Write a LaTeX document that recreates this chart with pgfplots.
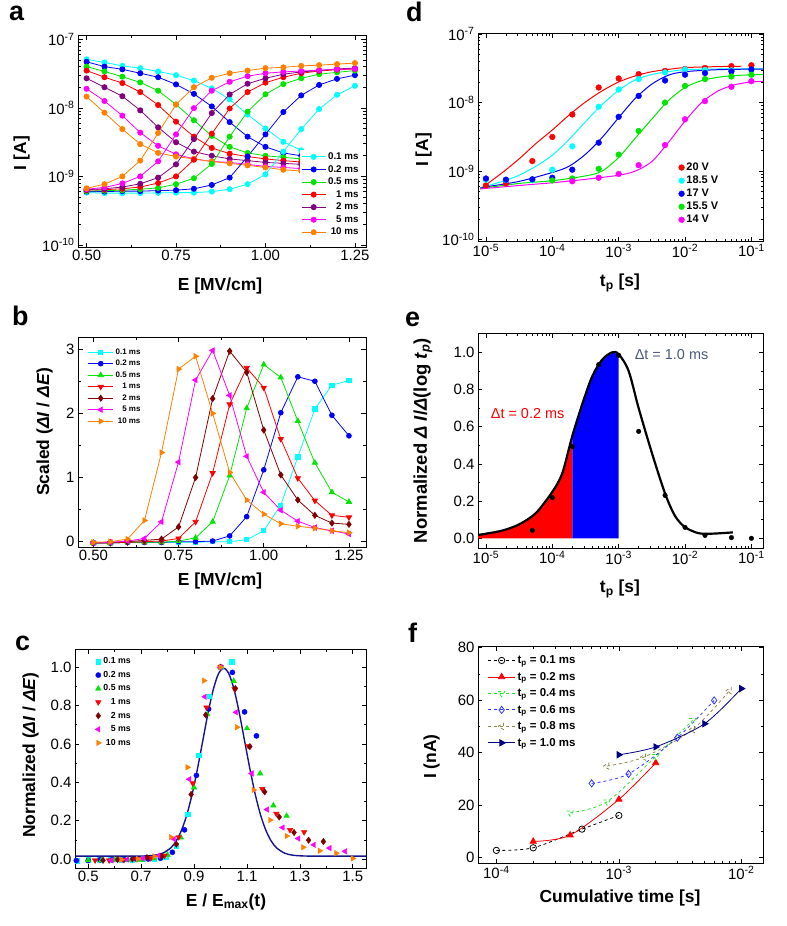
\documentclass[border=0pt]{standalone}
\usepackage{fontspec}
\setmainfont{Liberation Sans}
\usepackage{pgfplots}
\usepackage{pgfplotstable}
\pgfplotsset{compat=1.18}

\definecolor{cCy}{RGB}{0,255,255}
\definecolor{cBl}{RGB}{0,0,255}
\definecolor{cGr}{RGB}{0,230,0}
\definecolor{cRd}{RGB}{255,0,0}
\definecolor{cPu}{RGB}{128,0,128}
\definecolor{cMg}{RGB}{255,0,255}
\definecolor{cOr}{RGB}{255,128,0}
\definecolor{cDr}{RGB}{128,0,0}
\definecolor{cNv}{RGB}{0,0,128}
\definecolor{cOl}{RGB}{140,135,70}
\definecolor{cSl}{RGB}{75,90,120}
\definecolor{cFit}{RGB}{20,20,140}
\definecolor{cBf}{RGB}{50,50,255}
\definecolor{cGf}{RGB}{40,230,40}

\newcommand{\tenp}[1]{10\textsuperscript{#1}}

% panel a: I vs E, decreasing (D) and increasing (U) branches
\pgfplotstableread{
E     cyD     cyU      blD     blU      grD     grU      rdD     rdU      puD     puU      mgD     mgU      orD     orU
0.50  5.1e-8  5.8e-10  4.7e-8  6.0e-10  4.0e-8  6.1e-10  3.5e-8  6.3e-10  2.7e-8  6.4e-10  1.9e-8  6.5e-10  1.46e-8 6.7e-10
0.55  4.6e-8  5.7e-10  4.0e-8  6.0e-10  3.4e-8  6.2e-10  2.8e-8  6.4e-10  2.0e-8  6.6e-10  1.26e-8 6.9e-10  8.5e-9  7.7e-10
0.60  4.1e-8  5.7e-10  3.65e-8 6.1e-10  2.85e-8 6.3e-10  2.3e-8  6.6e-10  1.48e-8 7.0e-10  7.7e-9  7.9e-10  4.9e-9  1.0e-9
0.65  3.8e-8  5.7e-10  3.2e-8  6.1e-10  2.35e-8 6.5e-10  1.7e-8  7.0e-10  9.2e-9  7.8e-10  4.35e-9 1.0e-9   2.96e-9 1.7e-9
0.70  3.4e-8  5.75e-10 2.8e-8  6.2e-10  1.78e-8 6.8e-10  1.1e-8  8.0e-10  5.2e-9  9.6e-10  2.8e-9  1.66e-9  2.2e-9  4.3e-9
0.75  3.0e-8  5.8e-10  2.2e-8  6.3e-10  1.12e-8 7.7e-10  6.3e-9  1.0e-9   3.15e-9 1.5e-9   2.1e-9  4.1e-9   1.95e-9 1.12e-8
0.80  2.5e-8  5.8e-10  1.6e-8  6.6e-10  6.6e-9  9.4e-10  3.8e-9  1.75e-9  2.3e-9  3.5e-9   1.8e-9  9.9e-9   1.8e-9  2.0e-8
0.85  1.93e-8 6.0e-10  1.05e-8 7.5e-10  3.9e-9  1.52e-9  2.6e-9  4.2e-9   2.0e-9  8.4e-9   1.65e-9 1.78e-8  1.65e-9 2.75e-8
0.90  1.33e-8 6.5e-10  6.2e-9  9.6e-10  2.7e-9  3.8e-9   2.15e-9 9.8e-9   1.8e-9  1.57e-8  1.6e-9  2.4e-8   1.55e-9 3.2e-8
0.95  8.0e-9  7.7e-10  3.8e-9  1.95e-9  2.2e-9  8.8e-9   1.95e-9 1.7e-8   1.7e-9  2.25e-8  1.5e-9  2.9e-8   1.45e-9 3.5e-8
1.00  5.0e-9  1.07e-9  2.7e-9  4.1e-9   2.0e-9  1.58e-8  1.8e-9  2.33e-8  1.6e-9  2.7e-8   1.4e-9  3.2e-8   1.35e-9 3.8e-8
1.05  3.2e-9  2.3e-9   2.2e-9  8.7e-9   1.9e-9  2.22e-8  1.7e-9  2.8e-8   1.55e-9 3.1e-8   1.35e-9 3.35e-8  1.25e-9 3.9e-8
1.10  2.4e-9  4.9e-9   2.0e-9  1.52e-8  1.8e-9  2.7e-8   1.62e-9 3.2e-8   1.5e-9  3.35e-8  1.3e-9  3.45e-8  1.2e-9  4.1e-8
1.15  2.1e-9  9.6e-9   1.85e-9 2.16e-8  1.7e-9  3.1e-8   1.55e-9 3.45e-8  1.45e-9 3.5e-8   1.25e-9 3.55e-8  1.15e-9 4.2e-8
1.20  1.9e-9  1.55e-8  1.75e-9 2.65e-8  1.62e-9 3.3e-8   1.5e-9  3.6e-8   1.4e-9  3.7e-8   1.2e-9  3.65e-8  1.1e-9  4.35e-8
1.25  1.8e-9  2.1e-8   1.65e-9 3.0e-8   1.55e-9 3.5e-8   1.45e-9 3.7e-8   1.35e-9 3.8e-8   1.15e-9 3.7e-8   1.05e-9 4.5e-8
}\tabA

% panel b: scaled dI/dE
\pgfplotstableread{
E     cy     bl     gr     rd     dr     mg     or
0.50 -0.02  -0.02  -0.02  -0.02  -0.02  -0.02  -0.01
0.55 -0.02  -0.02  -0.02  -0.02  -0.01  -0.01   0.00
0.60 -0.01  -0.01  -0.01  -0.01   0.00   0.01   0.04
0.65 -0.01  -0.01  -0.01   0.00   0.02   0.05   0.33
0.70 -0.01  -0.01  -0.01   0.01   0.04   0.31   1.39
0.75 -0.01   0.00   0.01   0.05   0.23   1.24   2.69
0.80 -0.01   0.00   0.06   0.31   1.00   2.52   2.89
0.85  0.00   0.01   0.31   1.07   2.23   2.98   2.00
0.90  0.00   0.09   1.03   2.14   2.97   2.28   1.08
0.95  0.03   0.39   2.08   2.71   2.64   1.33   0.65
1.00  0.17   1.12   2.76   2.40   1.74   0.77   0.43
1.05  0.57   2.01   2.56   1.60   1.04   0.49   0.28
1.10  1.32   2.57   1.88   0.99   0.65   0.32   0.24
1.15  2.07   2.50   1.23   0.64   0.41   0.22   0.21
1.20  2.44   1.97   0.77   0.41   0.29   0.17   0.17
1.25  2.51   1.65   0.62   0.38   0.27   0.12   0.14
}\tabB

\pgfplotsset{
  panel/.style={
    scale only axis, anchor=south west,
    axis line style={line width=0.8pt},
    tick align=inside,
    tick style={black, line width=0.6pt},
    major tick length=4.5bp, minor tick length=2.5bp,
    tick label style={font=\fontsize{15}{15}\selectfont},
    label style={font=\bfseries\fontsize{17.5}{18}\selectfont},
    xlabel style={anchor=base}, ylabel style={anchor=base},
    legend style={draw=none, fill=white, inner sep=1bp},
    legend cell align=right,
  },
}

\begin{document}
\begin{tikzpicture}
\path[use as bounding box] (0,0) rectangle (787bp,-926bp);

\node[anchor=base west, inner sep=0pt, font=\bfseries\fontsize{27}{27}\selectfont] at (9bp,-20bp) {a};
\node[anchor=base west, inner sep=0pt, font=\bfseries\fontsize{27}{27}\selectfont] at (406bp,-21bp) {d};
\node[anchor=base west, inner sep=0pt, font=\bfseries\fontsize{27}{27}\selectfont] at (12bp,-325bp) {b};
\node[anchor=base west, inner sep=0pt, font=\bfseries\fontsize{27}{27}\selectfont] at (405bp,-326bp) {e};
\node[anchor=base west, inner sep=0pt, font=\bfseries\fontsize{27}{27}\selectfont] at (15bp,-650bp) {c};
\node[anchor=base west, inner sep=0pt, font=\bfseries\fontsize{27}{27}\selectfont] at (408bp,-642bp) {f};

% ---------------- a
\begin{axis}[panel, at={(78bp,-247bp)}, width=288bp, height=212bp,
  ymode=log, xmin=0.476, xmax=1.281, ymin=9.33e-11, ymax=1.156e-7,
  xtick={0.5,0.75,1,1.25}, xticklabels={0.50,0.75,1.00,1.25}, minor x tick num=1,
  ytick={1e-10,1e-9,1e-8,1e-7}, yticklabels={\tenp{-10},\tenp{-9},\tenp{-8},\tenp{-7}},
  xlabel={E [MV/cm]}, ylabel={I [A]},
  xlabel style={at={(axis description cs:0.493,-0.203)}},
  ylabel style={at={(axis description cs:-0.18,0.443)}},
  legend style={at={(axis description cs:0.985,0.035)}, anchor=south east, row sep=0.3bp,
    font=\bfseries\fontsize{9.8}{10}\selectfont},
  legend image code/.code={\draw[mark repeat=2,mark phase=2,#1] plot coordinates {(0bp,0bp) (12bp,0bp) (24bp,0bp)};},
  every axis plot/.append style={line width=0.8pt, mark=*, mark size=2.6pt},
]
\addplot[cCy] table[x=E,y=cyD]{\tabA}; \addlegendentry{0.1 ms}
\addplot[cBl] table[x=E,y=blD]{\tabA}; \addlegendentry{0.2 ms}
\addplot[cGr] table[x=E,y=grD]{\tabA}; \addlegendentry{0.5 ms}
\addplot[cRd] table[x=E,y=rdD]{\tabA}; \addlegendentry{1 ms}
\addplot[cPu] table[x=E,y=puD]{\tabA}; \addlegendentry{2 ms}
\addplot[cMg] table[x=E,y=mgD]{\tabA}; \addlegendentry{5 ms}
\addplot[cOr] table[x=E,y=orD]{\tabA}; \addlegendentry{10 ms}
\addplot[cCy, forget plot] table[x=E,y=cyU]{\tabA};
\addplot[cBl, forget plot] table[x=E,y=blU]{\tabA};
\addplot[cGr, forget plot] table[x=E,y=grU]{\tabA};
\addplot[cRd, forget plot] table[x=E,y=rdU]{\tabA};
\addplot[cPu, forget plot] table[x=E,y=puU]{\tabA};
\addplot[cMg, forget plot] table[x=E,y=mgU]{\tabA};
\addplot[cOr, forget plot] table[x=E,y=orU]{\tabA};
\end{axis}

% ---------------- b
\begin{axis}[panel, at={(78bp,-547bp)}, width=288bp, height=210bp,
  xmin=0.455, xmax=1.30, ymin=-0.083, ymax=3.19,
  xtick={0.5,0.75,1,1.25}, xticklabels={0.50,0.75,1.00,1.25}, minor x tick num=1,
  ytick={0,1,2,3}, yticklabels={0,1,2,3}, minor y tick num=1,
  xlabel={E [MV/cm]}, ylabel={Scaled (\textit{ΔI} / \textit{ΔE})},
  xlabel style={at={(axis description cs:0.493,-0.181)}},
  ylabel style={at={(axis description cs:-0.10,0.548)}},
  legend style={at={(axis description cs:0.03,0.96)}, anchor=north west, fill=none, row sep=0.5bp,
    font=\bfseries\fontsize{8}{9}\selectfont},
  legend image code/.code={\draw[mark repeat=2,mark phase=2,#1] plot coordinates {(0bp,0bp) (12.5bp,0bp) (25bp,0bp)};},
  every axis plot/.append style={line width=0.8pt, mark size=2.4pt},
]
\addplot[cCy, mark=square*, mark size=2.1pt] table[x=E,y=cy]{\tabB}; \addlegendentry{0.1 ms}
\addplot[cBl, mark=*] table[x=E,y=bl]{\tabB}; \addlegendentry{0.2 ms}
\addplot[cGr, mark=triangle*, mark size=3pt] table[x=E,y=gr]{\tabB}; \addlegendentry{0.5 ms}
\addplot[cRd, mark=triangle*, mark size=3pt, mark options={rotate=180}] table[x=E,y=rd]{\tabB}; \addlegendentry{1 ms}
\addplot[cDr, mark=diamond*, mark size=3pt] table[x=E,y=dr]{\tabB}; \addlegendentry{2 ms}
\addplot[cMg, mark=triangle*, mark size=3pt, mark options={rotate=90}] table[x=E,y=mg]{\tabB}; \addlegendentry{5 ms}
\addplot[cOr, mark=triangle*, mark size=3pt, mark options={rotate=-90}] table[x=E,y=or]{\tabB}; \addlegendentry{10 ms}
\end{axis}

% ---------------- c
\begin{axis}[panel, at={(75bp,-868bp)}, width=291bp, height=219bp,
  xmin=0.45, xmax=1.55, ymin=-0.047, ymax=1.095,
  xtick={0.5,0.7,0.9,1.1,1.3,1.5}, xticklabels={0.5,0.7,0.9,1.1,1.3,1.5}, minor x tick num=1,
  ytick={0,0.2,0.4,0.6,0.8,1.0}, yticklabels={0.0,0.2,0.4,0.6,0.8,1.0}, minor y tick num=1,
  xlabel={E / E\textsubscript{max}(t)}, ylabel={Normalized (\textit{ΔI} / \textit{ΔE})},
  xlabel style={at={(axis description cs:0.519,-0.174)}},
  ylabel style={at={(axis description cs:-0.137,0.516)}},
  legend style={at={(axis description cs:0.065,0.975)}, anchor=north west, fill=none, row sep=2bp,
    font=\bfseries\fontsize{8.8}{9}\selectfont},
  legend image code/.code={\draw[mark repeat=2,mark phase=2,#1] plot coordinates {(0bp,0bp) (8bp,0bp) (24bp,0bp)};},
  every axis plot/.append style={mark size=2.6pt},
]
\addplot[cCy, only marks, mark=square*, mark size=2.3pt] coordinates {
 (0.458,-0.008) (0.500,-0.004) (0.542,-0.004) (0.583,-0.004) (0.625,-0.004) (0.667,-0.004)
 (0.708,0) (0.750,0) (0.792,0.012) (0.833,0.070) (0.875,0.234) (0.917,0.541) (0.958,0.848)
 (1.0,1.0) (1.042,1.029)};
\addlegendentry{0.1 ms}
\addplot[cBl, only marks, mark=*] coordinates {
 (0.455,-0.008) (0.5,-0.008) (0.545,-0.004) (0.591,-0.004) (0.636,-0.004) (0.682,0) (0.727,0)
 (0.773,0.004) (0.818,0.035) (0.864,0.152) (0.909,0.436) (0.955,0.782) (1.0,1.0) (1.045,0.973)
 (1.091,0.767) (1.136,0.642)};
\addlegendentry{0.2 ms}
\addplot[cGr, only marks, mark=triangle*, mark size=3.2pt] coordinates {
 (0.5,-0.007) (0.55,-0.007) (0.6,-0.004) (0.65,-0.004) (0.7,-0.004) (0.75,0.004) (0.8,0.022)
 (0.85,0.112) (0.9,0.373) (0.95,0.754) (1.0,1.0) (1.05,0.928) (1.1,0.681) (1.15,0.446)
 (1.2,0.279) (1.25,0.225)};
\addlegendentry{0.5 ms}
\addplot[cRd, only marks, mark=triangle*, mark size=3.2pt, mark options={rotate=180}] coordinates {
 (0.526,-0.007) (0.579,-0.007) (0.632,-0.004) (0.684,0) (0.737,0.004) (0.789,0.018) (0.842,0.114)
 (0.895,0.395) (0.947,0.790) (1.0,1.0) (1.053,0.886) (1.105,0.590) (1.158,0.365) (1.211,0.236)
 (1.263,0.151) (1.316,0.140)};
\addlegendentry{1 ms}
\addplot[cDr, only marks, mark=diamond*, mark size=3.2pt] coordinates {
 (0.556,-0.007) (0.611,-0.003) (0.667,0) (0.722,0.007) (0.778,0.013) (0.833,0.077) (0.889,0.337)
 (0.944,0.751) (1.0,1.0) (1.056,0.889) (1.111,0.586) (1.167,0.350) (1.222,0.219) (1.278,0.138)
 (1.333,0.098) (1.389,0.091)};
\addlegendentry{2 ms}
\addplot[cMg, only marks, mark=triangle*, mark size=3.2pt, mark options={rotate=90}] coordinates {
 (0.588,-0.007) (0.647,-0.003) (0.706,0.003) (0.765,0.017) (0.824,0.104) (0.882,0.416) (0.941,0.846)
 (1.0,1.0) (1.059,0.765) (1.118,0.446) (1.176,0.258) (1.235,0.164) (1.294,0.107) (1.353,0.074)
 (1.412,0.057) (1.471,0.040)};
\addlegendentry{5 ms}
\addplot[cOr, only marks, mark=triangle*, mark size=3.2pt, mark options={rotate=-90}] coordinates {
 (0.625,-0.003) (0.6875,0) (0.75,0.014) (0.8125,0.114) (0.875,0.478) (0.9375,0.93) (1.0,1.0)
 (1.0625,0.687) (1.125,0.36) (1.1875,0.203) (1.25,0.12) (1.3125,0.061) (1.375,0.043)
 (1.4375,0.03) (1.5,0.003)};
\addlegendentry{10 ms}
\addplot[cFit, line width=1.4pt, no markers, smooth, forget plot] coordinates {
 (0.45,0.015) (0.662,0.015) (0.712,0.0159) (0.752,0.020) (0.782,0.0307) (0.812,0.058) (0.832,0.093)
 (0.852,0.148) (0.872,0.227) (0.892,0.333) (0.912,0.464) (0.932,0.609) (0.952,0.755) (0.972,0.880)
 (0.992,0.965) (1.012,0.995) (1.032,0.965) (1.052,0.880) (1.072,0.755) (1.092,0.609) (1.112,0.464)
 (1.132,0.333) (1.152,0.227) (1.172,0.148) (1.192,0.093) (1.212,0.058) (1.242,0.0307) (1.272,0.020)
 (1.312,0.0159) (1.362,0.015) (1.55,0.015)};
\end{axis}

% ---------------- d
\begin{axis}[panel, at={(478bp,-241bp)}, width=285bp, height=208bp,
  xmode=log, ymode=log, xmin=7.59e-6, xmax=0.1496, ymin=9.55e-11, ymax=1.035e-7,
  xtick={1e-5,1e-4,1e-3,1e-2,1e-1}, xticklabels={\tenp{-5},\tenp{-4},\tenp{-3},\tenp{-2},\tenp{-1}},
  ytick={1e-10,1e-9,1e-8,1e-7}, yticklabels={\tenp{-10},\tenp{-9},\tenp{-8},\tenp{-7}},
  xlabel={t\textsubscript{p} [s]}, ylabel={I [A]},
  xlabel style={at={(axis description cs:0.498,-0.221)}},
  ylabel style={at={(axis description cs:-0.175,0.4375)}},
  legend style={at={(axis description cs:0.70,0.065)}, anchor=south west, fill=none, row sep=0bp,
    font=\bfseries\fontsize{11}{12}\selectfont},
  legend cell align=left,
  legend image code/.code={\draw[mark repeat=2,mark phase=2,#1] plot coordinates {(0bp,0bp) (8bp,0bp) (28bp,0bp)};},
]
\addplot[cRd, line width=1pt, smooth, forget plot] coordinates {
 (8.22e-6,5.50e-10) (1e-5,6.31e-10) (1.778e-5,9.55e-10) (3.162e-5,1.51e-9) (5.623e-5,2.51e-9)
 (1e-4,3.98e-9) (1.778e-4,6.53e-9) (3.162e-4,1.02e-8) (5.623e-4,1.48e-8) (1e-3,2.0e-8)
 (1.778e-3,2.45e-8) (3.162e-3,2.82e-8) (5.623e-3,3.05e-8) (1e-2,3.24e-8) (3.162e-2,3.35e-8) (7.08e-2,3.39e-8)};
\addplot[cCy, line width=1pt, smooth, forget plot] coordinates {
 (8.22e-6,5.69e-10) (1e-5,6.03e-10) (1.778e-5,7.08e-10) (3.162e-5,8.71e-10) (5.623e-5,1.175e-9)
 (1e-4,1.70e-9) (1.778e-4,2.88e-9) (3.162e-4,5.25e-9) (5.623e-4,9.33e-9) (1e-3,1.51e-8)
 (1.778e-3,2.14e-8) (3.162e-3,2.57e-8) (5.623e-3,2.82e-8) (1e-2,3.02e-8) (3.162e-2,3.09e-8) (1.496e-1,3.09e-8)};
\addplot[cBl, line width=1pt, smooth, forget plot] coordinates {
 (8.22e-6,5.62e-10) (1e-5,5.89e-10) (3.162e-5,7.08e-10) (1e-4,9.55e-10) (1.778e-4,1.175e-9)
 (3.162e-4,1.76e-9) (5.623e-4,3.09e-9) (1e-3,6.03e-9) (1.778e-3,1.15e-8) (3.162e-3,1.86e-8)
 (5.623e-3,2.51e-8) (1e-2,2.82e-8) (3.162e-2,3.02e-8) (1.496e-1,3.09e-8)};
\addplot[cGr, line width=1pt, smooth, forget plot] coordinates {
 (8.22e-6,5.56e-10) (3.162e-5,6.61e-10) (1e-4,7.24e-10) (3.162e-4,8.51e-10) (5.623e-4,1.0e-9)
 (1e-3,1.58e-9) (1.778e-3,3.02e-9) (3.162e-3,5.75e-9) (5.623e-3,1.07e-8) (1e-2,1.66e-8)
 (1.778e-2,2.09e-8) (3.162e-2,2.34e-8) (5.623e-2,2.48e-8) (1e-1,2.54e-8) (1.496e-1,2.57e-8)};
\addplot[cMg, line width=1pt, smooth, forget plot] coordinates {
 (8.22e-6,5.50e-10) (3.162e-5,6.17e-10) (1e-4,6.76e-10) (3.162e-4,7.59e-10) (1e-3,8.71e-10)
 (1.778e-3,1.0e-9) (3.162e-3,1.38e-9) (5.623e-3,2.63e-9) (1e-2,5.37e-9) (1.778e-2,1.0e-8)
 (3.162e-2,1.48e-8) (5.623e-2,1.82e-8) (1e-1,2.0e-8) (1.496e-1,2.04e-8)};
\addplot[cRd, only marks, mark=*, mark size=2.9pt] coordinates {
 (1e-5,6.2e-10) (2e-5,6.6e-10) (5e-5,1.4e-9) (1e-4,3.15e-9) (2e-4,6.7e-9) (5e-4,1.66e-8) (1e-3,2.25e-8)
 (2e-3,2.6e-8) (5e-3,2.9e-8) (1e-2,3.1e-8) (2e-2,3.2e-8) (5e-2,3.4e-8) (1e-1,3.5e-8)};
\addlegendentry{20 V}
\addplot[cCy, only marks, mark=*, mark size=2.9pt] coordinates {
 (1e-5,7.5e-10) (2e-5,7.4e-10) (5e-5,7.4e-10) (1e-4,1.05e-9) (2e-4,2.3e-9) (5e-4,8.7e-9) (1e-3,1.55e-8)
 (2e-3,2.2e-8) (5e-3,2.75e-8) (1e-2,3.05e-8) (2e-2,3.0e-8) (5e-2,2.95e-8) (1e-1,3.0e-8)};
\addlegendentry{18.5 V}
\addplot[cBl, only marks, mark=*, mark size=2.9pt] coordinates {
 (1e-5,7.8e-10) (2e-5,7.5e-10) (5e-5,7.6e-10) (1e-4,8.0e-10) (2e-4,1.05e-9) (5e-4,2.6e-9) (1e-3,6.2e-9)
 (2e-3,1.25e-8) (5e-3,2.1e-8) (1e-2,2.55e-8) (2e-2,2.7e-8) (5e-2,2.85e-8) (1e-1,3.05e-8)};
\addlegendentry{17 V}
\addplot[cGr, only marks, mark=*, mark size=2.9pt] coordinates {
 (1e-4,7.3e-10) (2e-4,7.8e-10) (5e-4,1.08e-9) (1e-3,1.74e-9) (2e-3,3.85e-9) (5e-3,1.0e-8)
 (1e-2,1.75e-8) (2e-2,2.2e-8) (5e-2,2.4e-8) (1e-1,2.55e-8)};
\addlegendentry{15.5 V}
\addplot[cMg, only marks, mark=*, mark size=2.9pt] coordinates {
 (2e-4,7.1e-10) (5e-4,8.0e-10) (1e-3,9.1e-10) (2e-3,1.22e-9) (5e-3,2.4e-9) (1e-2,5.7e-9)
 (2e-2,1.05e-8) (5e-2,1.7e-8) (1e-1,2.05e-8)};
\addlegendentry{14 V}
\end{axis}

% ---------------- e
\begin{axis}[panel, at={(478bp,-548bp)}, width=285bp, height=215bp,
  xmode=log, xmin=7.59e-6, xmax=0.1496, ymin=-0.052, ymax=1.104,
  xtick={1e-5,1e-4,1e-3,1e-2,1e-1}, xticklabels={\tenp{-5},\tenp{-4},\tenp{-3},\tenp{-2},\tenp{-1}},
  ytick={0,0.2,0.4,0.6,0.8,1.0}, yticklabels={0.0,0.2,0.4,0.6,0.8,1.0}, minor y tick num=1,
  xlabel={t\textsubscript{p} [s]},
  ylabel={Normalized \textit{Δ I}/\textit{Δ}(log \textit{t}\textsubscript{\textit{p}})},
  xlabel style={at={(axis description cs:0.498,-0.209)}},
  ylabel style={at={(axis description cs:-0.179,0.50)}, font=\bfseries\fontsize{18.5}{19}\selectfont},
]
\addplot[fill=cRd, draw=none] coordinates {
 (7.59e-6,0.018) (1e-5,0.025) (1.778e-5,0.042) (3.162e-5,0.075) (5.623e-5,0.135) (1e-4,0.25)
 (1.413e-4,0.35) (2e-4,0.55)} \closedcycle;
\addplot[fill=cBl, draw=none] coordinates {
 (2e-4,0.55) (2.818e-4,0.72) (3.981e-4,0.87) (5.623e-4,0.96) (7.943e-4,1.0) (1e-3,0.99)} \closedcycle;
\addplot[black, line width=2.2pt, smooth] coordinates {
 (7.59e-6,0.018) (1e-5,0.025) (1.778e-5,0.042) (3.162e-5,0.075) (5.623e-5,0.135) (1e-4,0.25)
 (1.413e-4,0.35) (2e-4,0.55) (2.818e-4,0.72) (3.981e-4,0.87) (5.623e-4,0.96) (7.943e-4,1.0)
 (1e-3,0.99) (1.413e-3,0.90) (2e-3,0.70) (3.162e-3,0.46) (5.012e-3,0.24) (7.079e-3,0.12)
 (1e-2,0.06) (1.585e-2,0.028) (2.512e-2,0.025) (5.248e-2,0.032)};
\addplot[black, only marks, mark=*, mark size=2.3pt] coordinates {
 (5e-5,0.043) (1e-4,0.219) (2e-4,0.493) (5e-4,0.934) (1e-3,0.984) (2e-3,0.575) (5e-3,0.231)
 (1e-2,0.059) (2e-2,0.016) (5e-2,0.004) (1e-1,0.0)};
\node[anchor=base west, text=cRd, font=\fontsize{14.5}{15}\selectfont] at (axis cs:1.05e-5,0.642) {Δt = 0.2 ms};
\node[anchor=base west, text=cSl, font=\fontsize{14.5}{15}\selectfont] at (axis cs:1.55e-3,0.96) {Δt = 1.0 ms};
\end{axis}

% ---------------- f
\begin{axis}[panel, at={(478bp,-863bp)}, width=285bp, height=217bp,
  xmode=log, xmin=7.08e-5, xmax=1.503e-2, ymin=-2, ymax=80.6,
  xtick={1e-4,1e-3,1e-2}, xticklabels={\tenp{-4},\tenp{-3},\tenp{-2}},
  ytick={0,20,40,60,80}, yticklabels={0,20,40,60,80}, minor y tick num=1,
  xlabel={Cumulative time [s]}, ylabel={I (nA)},
  xlabel style={at={(axis description cs:0.498,-0.18)}},
  ylabel style={at={(axis description cs:-0.147,0.49)}},
  legend style={at={(axis description cs:0.03,0.97)}, anchor=north west, fill=none, row sep=3bp,
    font=\bfseries\fontsize{11.5}{12}\selectfont},
  legend cell align=left,
  legend image code/.code={\draw[mark repeat=2,mark phase=2,#1] plot coordinates {(0bp,0bp) (13.5bp,0bp) (27bp,0bp)};},
  every axis plot/.append style={line width=0.8pt, smooth, mark options={solid}},
]
\addplot[black, dashed, mark=o, mark size=3.2pt] coordinates {
 (1e-4,2.8) (2e-4,3.8) (5e-4,10.9) (1e-3,16.1)};
\addlegendentry{t\textsubscript{p} = 0.1 ms}
\addplot[cRd, mark=triangle*, mark size=3.6pt] coordinates {
 (2e-4,6.2) (4e-4,8.6) (1e-3,22.2) (2e-3,36.1)};
\addlegendentry{t\textsubscript{p} = 0.2 ms}
\addplot[cGf, dashed, mark=triangle, mark size=3.6pt, mark options={rotate=180}] coordinates {
 (4e-4,17.1) (8e-4,21.3) (2e-3,38.6) (4e-3,52.3)};
\addlegendentry{t\textsubscript{p} = 0.4 ms}
\addplot[cBf, dashed, mark=diamond, mark size=3.6pt] coordinates {
 (6e-4,28.3) (1.2e-3,31.9) (3e-3,45.7) (6e-3,59.9)};
\addlegendentry{t\textsubscript{p} = 0.6 ms}
\addplot[cOl, dashed, mark=triangle, mark size=3.6pt, mark options={rotate=90}] coordinates {
 (8e-4,34.9) (1.6e-3,38.3) (4e-3,48.8) (8e-3,63.6)};
\addlegendentry{t\textsubscript{p} = 0.8 ms}
\addplot[cNv, mark=triangle*, mark size=3.6pt, mark options={rotate=-90}] coordinates {
 (1e-3,39.2) (2e-3,42.2) (5e-3,51.0) (1e-2,64.4)};
\addlegendentry{t\textsubscript{p} = 1.0 ms}
\end{axis}
\end{tikzpicture}
\end{document}
